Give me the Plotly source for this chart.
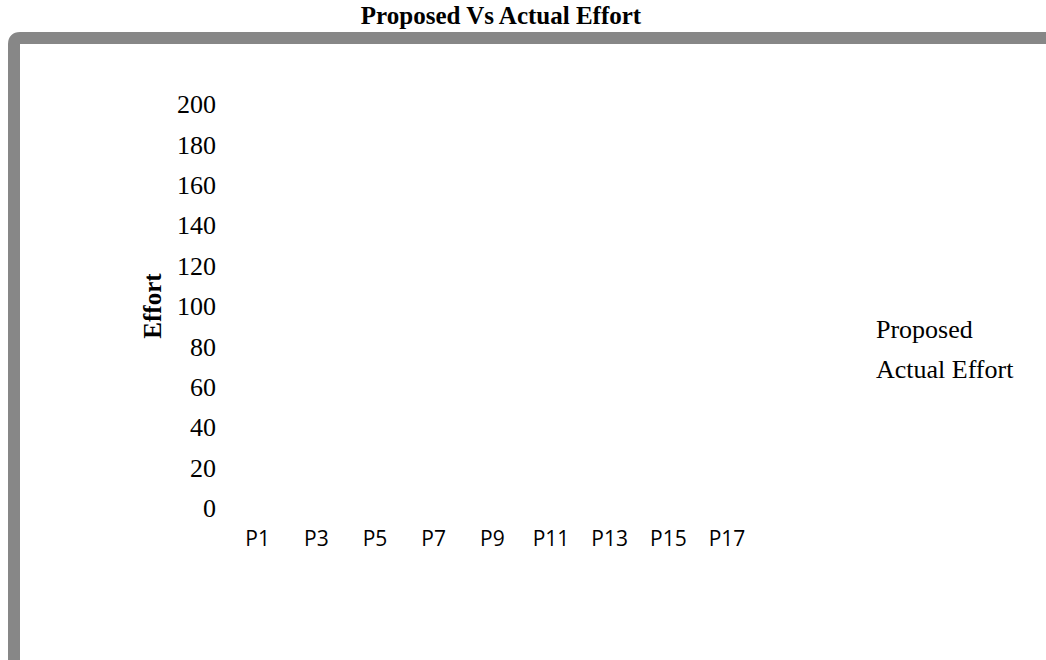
import plotly.graph_objects as go

# Project labels along the category axis
projects = [f"P{i}" for i in range(1, 19)]

# Effort series (no plotted values in this chart)
proposed = [None] * len(projects)
actual_effort = [None] * len(projects)

# Y axis ticks
y_ticks = list(range(0, 201, 20))

W, H = 1046, 660
ML, MR, MT, MB = 243, 275, 104, 152
PW, PH = W - ML - MR, H - MT - MB


def px_x(px):
    return (px - ML) / PW


def px_y(py):
    return (H - MB - py) / PH


fig = go.Figure()
fig.add_trace(go.Scatter(
    x=projects, y=proposed, name="Proposed", mode="lines",
    line=dict(color="rgba(0,0,0,0)", width=2), legendgroup="a",
))
fig.add_trace(go.Scatter(
    x=projects, y=actual_effort, name="Actual Effort", mode="lines",
    line=dict(color="rgba(0,0,0,0)", width=2), legendgroup="b",
))

# Grey rounded frame along the top and left edges
x0, y0, r = 14, 38, 6
frame = (
    f"M {px_x(x0)},{px_y(H + 20)} "
    f"L {px_x(x0)},{px_y(y0 + r)} "
    f"Q {px_x(x0)},{px_y(y0)} {px_x(x0 + r)},{px_y(y0)} "
    f"L {px_x(W + 20)},{px_y(y0)}"
)
fig.add_shape(type="path", path=frame, xref="paper", yref="paper",
              line=dict(color="#878787", width=12), layer="below")

serif = "Liberation Serif, Times New Roman, serif"

fig.update_layout(
    width=W, height=H,
    margin=dict(l=ML, r=MR, t=MT, b=MB, autoexpand=False),
    paper_bgcolor="white", plot_bgcolor="white",
    title=dict(text="<b>Proposed Vs Actual Effort</b>", x=501 / W, xanchor="center",
               y=1 - 15 / H, yanchor="middle", xref="container", yref="container",
               font=dict(family=serif, size=25, color="black")),
    xaxis=dict(type="category", range=[-0.5, len(projects) - 0.5],
               tickmode="array", tickvals=projects[::2], ticktext=projects[::2],
               showgrid=False, zeroline=False, showline=False, ticks="",
               ticklabelstandoff=16,
               tickfont=dict(family="Open Sans, sans-serif", size=21, color="black")),
    yaxis=dict(range=[0, 200], tickvals=y_ticks, showgrid=False, zeroline=False,
               showline=False, ticks="", ticklabelstandoff=26,
               tickfont=dict(family=serif, size=26, color="black"),
               title=dict(text="<b>Effort</b>", standoff=8,
                          font=dict(family=serif, size=25, color="black"))),
    legend=dict(xref="container", yref="container", x=836 / W, y=1 - 304 / H,
                xanchor="left", yanchor="top", tracegroupgap=4,
                font=dict(family=serif, size=26, color="black"),
                bgcolor="rgba(0,0,0,0)"),
    showlegend=True,
)

fig.write_html("out.html")
